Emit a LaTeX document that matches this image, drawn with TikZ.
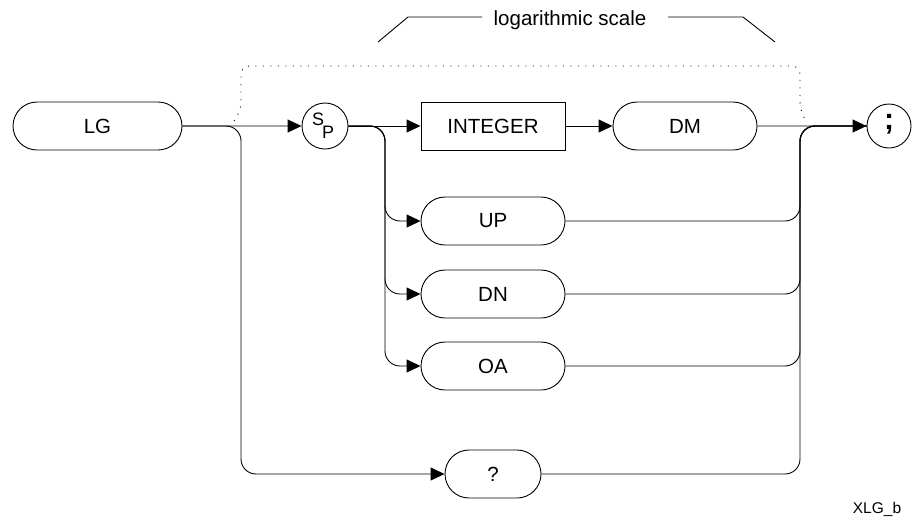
\documentclass[tikz,border=0pt]{standalone}
\usepackage{fontspec}
\setmainfont{Liberation Sans}
\usetikzlibrary{arrows.meta,shapes.misc}
\begin{document}
\begin{tikzpicture}[x=1pt,y=-1pt,line width=0.9pt,
  lbl/.style={font=\fontsize{20.5}{23}\selectfont},
  pill/.style={draw,rounded rectangle,minimum width=144pt,minimum height=48pt,inner sep=0pt,lbl},
  box/.style={draw,rectangle,minimum width=144pt,minimum height=48pt,inner sep=0pt,lbl},
  circ/.style={draw,circle,minimum size=46pt,inner sep=0pt},
  sp/.style={font=\fontsize{18}{19}\selectfont,inner sep=0pt},
  arr/.style={-{Triangle[length=14pt,width=13pt]}},
  conn/.style={rounded corners=15pt},
  deco/.style={line width=0.9pt}]
\useasboundingbox (0,0) rectangle (912,520);
% nodes
\node[pill,minimum width=169pt] (lg) at (97.5,126) {LG};
\node[circ] (sp) at (325,126) {};
\node[sp] (s) at (318,119) {S};
\node[sp] (p) at (328,132.5) {P};
\node[box] (int) at (493,126) {INTEGER};
\node[pill] (dm) at (685,126) {DM};
\node[circ,minimum size=44pt] (semi) at (889,126) {};
\node[font=\bfseries\fontsize{30}{30}\selectfont,inner sep=0pt] (sc) at (889,124) {;};
\node[pill] (up) at (493,221) {UP};
\node[pill] (dn) at (493,294) {DN};
\node[pill] (oa) at (493,366) {OA};
\node[pill,minimum width=96pt] (q) at (493,474) {?};
\node[anchor=base,lbl] (ls) at (570,25) {logarithmic scale};
\node[font=\fontsize{15.5}{17}\selectfont] (tag) at (877,509) {XLG\_b};
% junctions
\coordinate (jl) at (241,126);
\coordinate (js) at (385,126);
\coordinate (jr) at (800,126);
% connectors
\draw[arr,conn] (lg.east) -- (jl) |- (q.west);
\draw[arr] (lg) -- (sp);
\draw[arr,conn] (sp.east) -- (js) |- (up.west);
\draw[arr,conn] (sp.east) -- (js) |- (dn.west);
\draw[arr,conn] (sp.east) -- (js) |- (oa.west);
\draw[arr] (sp) -- (int);
\draw[arr] (int) -- (dm);
\draw[conn] (up.east) -| (jr) -- (semi.west);
\draw[conn] (dn.east) -| (jr) -- (semi.west);
\draw[conn] (oa.east) -| (jr) -- (semi.west);
\draw[conn] (q.east) -| (jr) -- (semi.west);
\draw[arr] (dm) -- (semi);
% dotted bracket
\draw[deco,dash pattern=on 1pt off 6.5pt,rounded corners=8pt]
  (234,121) -- (241,110) -- (241,66) -- (800,66) -- (800,110) -- (806,121);
% logarithmic scale bracket
\draw[deco] (378,42) -- (408,17) -- (482,17);
\draw[deco] (668,17) -- (743,17) -- (775,42);
\end{tikzpicture}
\end{document}
